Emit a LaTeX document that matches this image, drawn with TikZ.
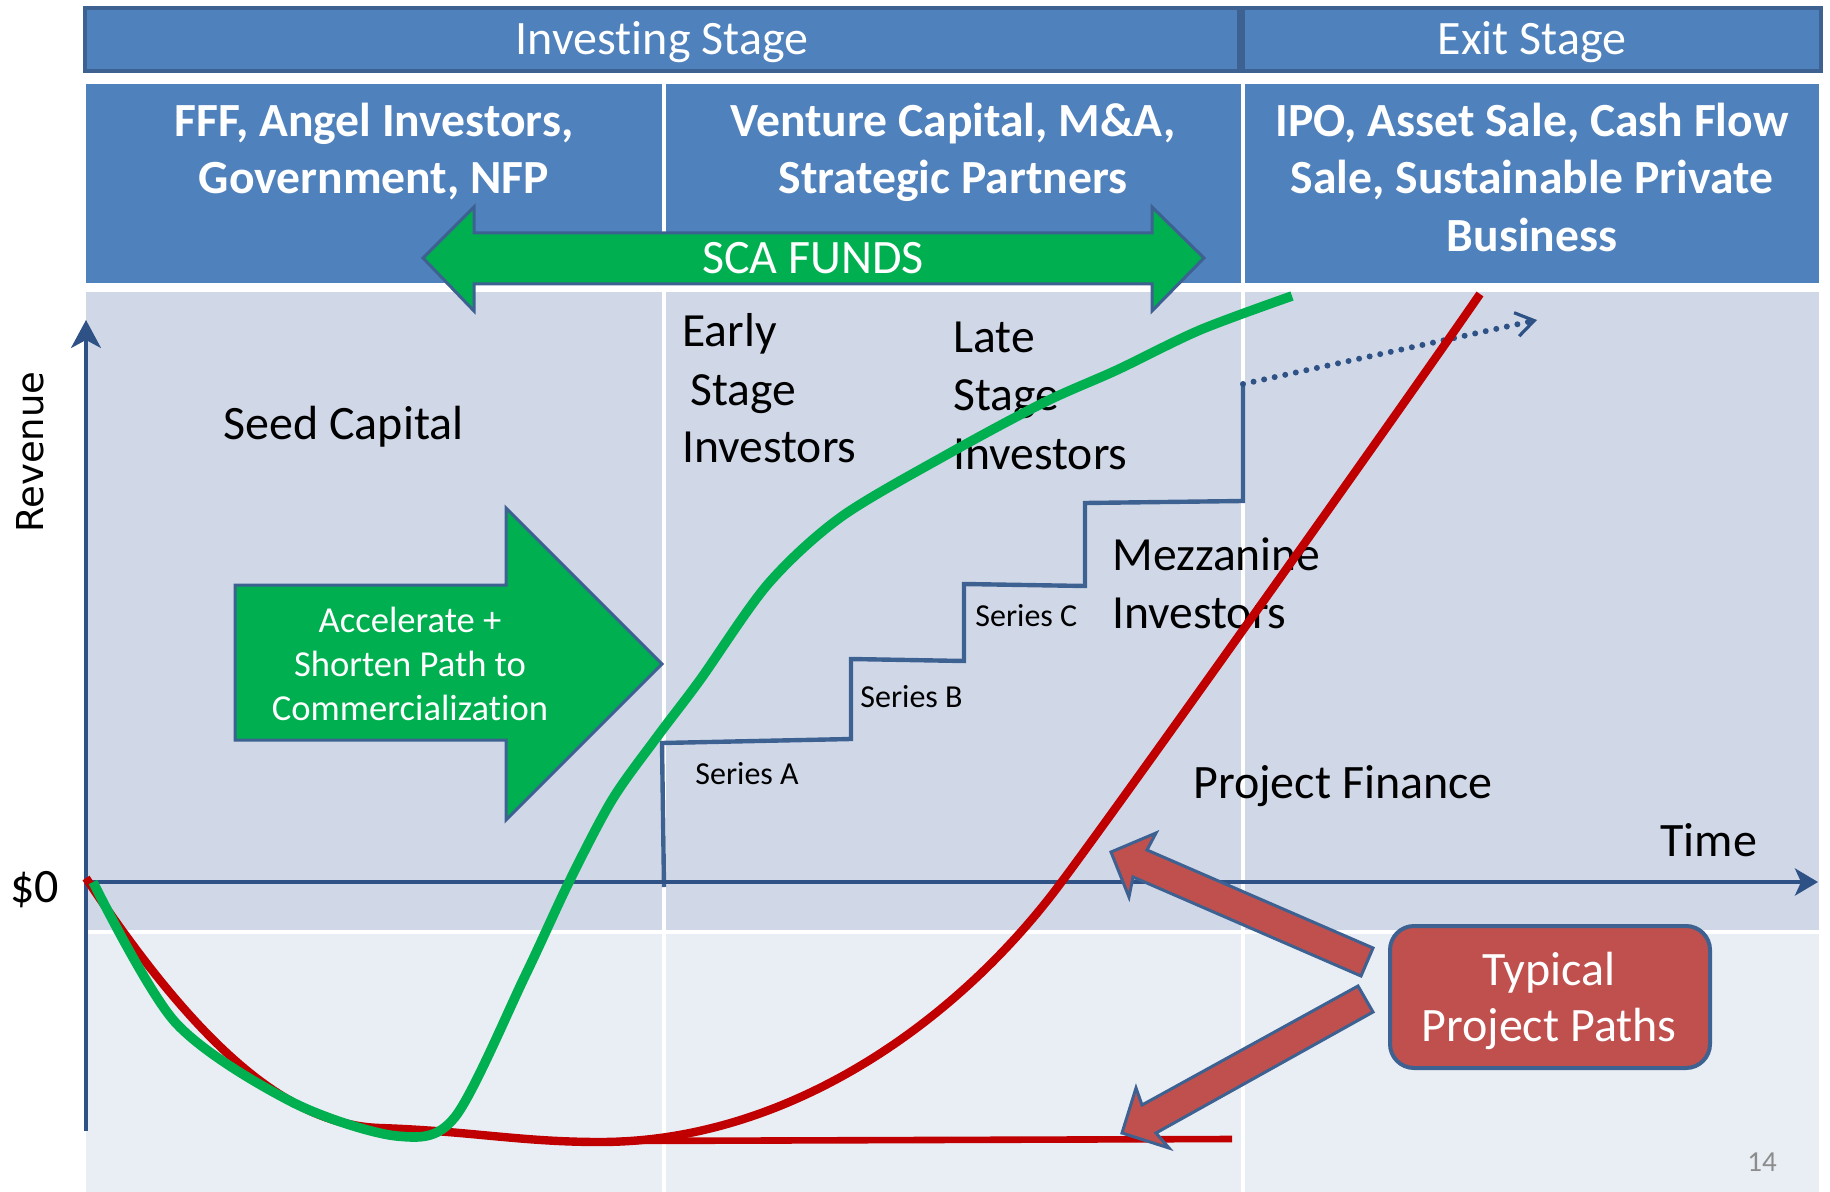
\documentclass[tikz,border=0pt]{standalone}
\usepackage{fontspec}
\setmainfont{Carlito}[Ligatures=NoCommon]
\newfontfamily\revenuefont{DejaVu Sans}
\usetikzlibrary{arrows.meta}
\definecolor{hdrblue}{HTML}{4F81BD}
\definecolor{edgeblue}{HTML}{3D6191}
\definecolor{axisblue}{HTML}{2E5286}
\definecolor{upperband}{HTML}{D0D8E8}
\definecolor{lowerband}{HTML}{E9EDF4}
\definecolor{fundgreen}{HTML}{00B050}
\definecolor{pathred}{HTML}{C00000}
\definecolor{calloutred}{HTML}{C0504D}
\definecolor{pagegray}{HTML}{8C8C8C}
\newcommand{\bigfont}{\fontsize{24}{28}\selectfont}
\tikzstyle{stagebar}=[draw=edgeblue, line width=2pt, fill=hdrblue, inner sep=0, outer sep=0, minimum height=31.5pt]
\tikzstyle{headcell}=[fill=hdrblue, inner sep=0, outer sep=0, minimum height=99.5pt]
\tikzstyle{whitetext}=[anchor=base, inner sep=0, text=white, font=\bigfont]
\tikzstyle{headtext}=[whitetext, font=\bfseries\fontsize{23.8}{28}\selectfont]
\tikzstyle{pushtext}=[whitetext, font=\fontsize{18.3}{22}\selectfont]
\tikzstyle{plaintext}=[anchor=base west, inner sep=0, font=\fontsize{23.8}{28}\selectfont]
\tikzstyle{seriestext}=[anchor=base west, inner sep=0, font=\fontsize{16}{19}\selectfont]
\tikzstyle{blockarrow}=[draw=edgeblue, line width=1.5pt, line join=miter]
\tikzstyle{curve}=[line width=4.8pt, line join=round]
\tikzstyle{axis}=[draw=axisblue, line width=2pt]

\begin{document}
\begin{tikzpicture}[x=0.5pt, y=-0.5pt]
    \useasboundingbox (0,0) rectangle (1830,1192);
    % table background
    \foreach \xa/\xb in {86/662, 666/1241, 1245/1819} {
        \fill[upperband] (\xa,292) rectangle (\xb,930);
        \fill[lowerband] (\xa,934) rectangle (\xb,1192);
    }
    % stage bars
    \node[stagebar, minimum width=577pt] (investing) at (662,39.5) {};
    \node[stagebar, minimum width=289pt] (exit) at (1532,39.5) {};
    \node[whitetext] (investingtext) at (662,55) {Investing Stage};
    \node[whitetext] (exittext) at (1532,55) {Exit Stage};
    % header cells
    \node[headcell, minimum width=288pt] (fffcell) at (374,183.5) {};
    \node[headcell, minimum width=287.5pt] (vccell) at (953.5,183.5) {};
    \node[headcell, minimum width=287pt] (ipocell) at (1532,183.5) {};
    \node[headtext] (fffa) at (374,137) {FFF, Angel Investors,};
    \node[headtext] (fffb) at (374,194) {Government, NFP};
    \node[headtext] (vca) at (953,137) {Venture Capital, M\&A,};
    \node[headtext] (vcb) at (953,194) {Strategic Partners};
    \node[headtext] (ipoa) at (1532,137) {IPO, Asset Sale, Cash Flow};
    \node[headtext] (ipob) at (1532,194) {Sale, Sustainable Private};
    \node[headtext] (ipoc) at (1532,252) {Business};
    % green block arrows
    \path[blockarrow, fill=fundgreen] (423,258) -- (474,207) -- (474,233) -- (1152,233) -- (1152,207)
        -- (1204,258) -- (1152,311) -- (1152,284) -- (474,284) -- (474,311) -- cycle;
    \node[whitetext] (sca) at (813,274) {SCA FUNDS};
    \path[blockarrow, fill=fundgreen] (235,585) -- (506,585) -- (506,508) -- (662,664) -- (506,820)
        -- (506,740) -- (235,740) -- cycle;
    \node[pushtext] (pusha) at (410,632) {Accelerate +};
    \node[pushtext] (pushb) at (410,676) {Shorten Path to};
    \node[pushtext] (pushc) at (410,720) {Commercialization};
    % stage labels
    \node[plaintext, font=\fontsize{24}{28}\selectfont] (seed) at (223,439) {Seed Capital};
    \node[plaintext] (earlya) at (682,347) {Early};
    \node[plaintext] (earlyb) at (690,406) {Stage};
    \node[plaintext] (earlyc) at (682,462) {Investors};
    \node[plaintext] (latea) at (953,353) {Late};
    \node[plaintext] (lateb) at (953,410) {Stage};
    \node[plaintext] (latec) at (953,469) {Investors};
    \node[plaintext] (mezza) at (1112,570) {Mezzanine};
    \node[plaintext] (mezzb) at (1112,628) {Investors};
    \node[seriestext] (seriesa) at (695,784) {Series A};
    \node[seriestext] (seriesb) at (860,707) {Series B};
    \node[seriestext] (seriesc) at (975,626) {Series C};
    \node[plaintext, font=\bigfont] (project) at (1193,798) {Project Finance};
    \node[plaintext, font=\bigfont] (time) at (1660,856) {Time};
    \node[plaintext, font=\bigfont] (zero) at (10,902) {\$0};
    \node[rotate=90, inner sep=0, font=\revenuefont\fontsize{18.5}{22}\selectfont] (revenue) at (30,452) {Revenue};
    % funding steps
    \draw[edgeblue, line width=2.2pt, line join=miter] (664,887) -- (662,743) -- (851,739) -- (851,659)
        -- (964,661) -- (964,584) -- (1085,586) -- (1085,503) -- (1243,501) -- (1243,384) coordinate (stepend);
    \coordinate (dotend) at (1537,320);
    \draw[axisblue, line width=3pt, line cap=round, dash pattern=on 0pt off 5.4pt,
          -{Straight Barb[length=9pt, width=12pt, line width=1.6pt]}] (stepend) -- (dotend);
    % axes
    \coordinate (origin) at (86,882);
    \coordinate (ytop) at (86,320);
    \coordinate (ybottom) at (86,1131);
    \coordinate (xend) at (1818,882);
    \draw[axis, line width=1.6pt, -{Stealth[length=14pt, width=15pt, inset=4pt]}] (ybottom) -- (ytop);
    \draw[axis, -{Stealth[length=11.5pt, width=13.5pt, inset=3pt]}] (origin) -- (xend);
    % project paths
    \draw[pathred, line width=3.3pt] (620,1141) -- (1232,1139);
    \draw[curve, line width=4.2pt, pathred] (86,878) .. controls (200,1050) and (290,1125) .. (380,1128)
        .. controls (470,1131) and (520,1142) .. (600,1142)
        .. controls (790,1142) and (960,1020) .. (1063,880)
        .. controls (1120,804) and (1400,410) .. (1480,294);
    \draw[curve, fundgreen] plot[smooth] coordinates {(93,882) (175,1022) (292,1102) (397,1136) (455,1117)
        (525,976) (569,882) (612,800) (657,737) (700,680) (768,584) (841,517) (948,454) (1045,402)
        (1117,370) (1200,330) (1292,296)};
    % callout
    \node[draw=edgeblue, line width=2pt, fill=calloutred, rounded corners=12pt, minimum width=160pt,
          minimum height=71pt, inner sep=0] (typical) at (1550,997) {};
    \node[whitetext] (typicala) at (1549,985) {Typical};
    \node[whitetext] (typicalb) at (1549,1041) {Project Paths};
    \path[blockarrow, fill=calloutred] (1111,852) -- (1156,833) -- (1147,850) -- (1373,948) -- (1361,976)
        -- (1133,877) -- (1129,897) -- cycle;
    \path[blockarrow, fill=calloutred] (1122,1133) -- (1136,1088) -- (1142,1105) -- (1358,986) -- (1373,1012)
        -- (1156,1133) -- (1169,1148) -- cycle;
    \node[anchor=base, inner sep=0, text=pagegray, font=\fontsize{14.5}{17}\selectfont] (page) at (1762,1171) {14};
\end{tikzpicture}
\end{document}
